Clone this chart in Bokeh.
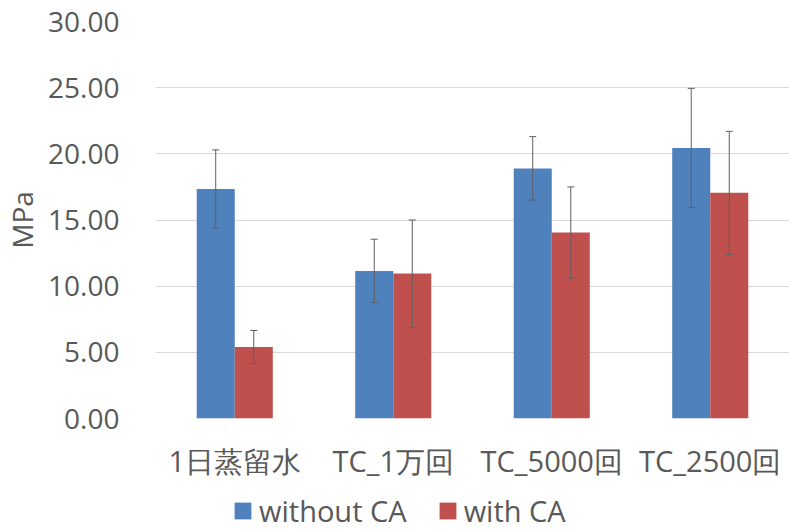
from bokeh.plotting import figure
from bokeh.layouts import column
from bokeh.models import (ColumnDataSource, Whisker, Legend, LegendItem,
                          SingleIntervalTicker, NumeralTickFormatter, TeeHead)
from bokeh.transform import dodge
from bokeh.embed import file_html
from bokeh.resources import INLINE

categories = ["1日蒸留水", "TC_1万回", "TC_5000回", "TC_2500回"]
without_ca = [17.35, 11.15, 18.9, 20.45]
without_ca_err = [2.95, 2.4, 2.4, 4.5]
with_ca = [5.4, 10.95, 14.05, 17.05]
with_ca_err = [1.25, 4.05, 3.45, 4.65]
series_names = ["without CA", "with CA"]
series_colors = ["#4F81BD", "#C0504D"]

src = ColumnDataSource(data=dict(
    cat=categories,
    wo=without_ca,
    wo_up=[v + e for v, e in zip(without_ca, without_ca_err)],
    wo_lo=[v - e for v, e in zip(without_ca, without_ca_err)],
    w=with_ca,
    w_up=[v + e for v, e in zip(with_ca, with_ca_err)],
    w_lo=[v - e for v, e in zip(with_ca, with_ca_err)],
))

TXT = "#595959"
FONT = "Open Sans"

p = figure(width=789, height=482, x_range=categories, y_range=(0, 30),
           output_backend="svg", toolbar_location=None,
           min_border_left=153, min_border_right=0, min_border_top=21, min_border_bottom=63)
p.outline_line_color = None
p.xgrid.grid_line_color = None
p.ygrid.grid_line_color = "#D9D9D9"
p.ygrid.grid_line_width = 1

p.vbar(x=dodge("cat", -0.12, range=p.x_range), top="wo", width=0.24, source=src,
       fill_color=series_colors[0], line_color=None)
p.vbar(x=dodge("cat", 0.12, range=p.x_range), top="w", width=0.24, source=src,
       fill_color=series_colors[1], line_color=None)

for off, up, lo in [(-0.12, "wo_up", "wo_lo"), (0.12, "w_up", "w_lo")]:
    wk = Whisker(source=src, base=dodge("cat", off, range=p.x_range), upper=up, lower=lo,
                 line_color="#606060", line_width=1, level="overlay",
                 upper_head=TeeHead(size=7, line_color="#606060", line_width=1),
                 lower_head=TeeHead(size=7, line_color="#606060", line_width=1))
    p.add_layout(wk)

p.yaxis.ticker = SingleIntervalTicker(interval=5)
p.yaxis.formatter = NumeralTickFormatter(format="0.00")
p.yaxis.axis_label = "MPa"
for ax in (p.xaxis, p.yaxis):
    ax.axis_line_color = None
    ax.major_tick_line_color = None
    ax.minor_tick_line_color = None
    ax.major_label_text_color = TXT
    ax.major_label_text_font = FONT
    ax.major_label_text_font_size = "28px"
p.yaxis.major_label_standoff = 30
p.yaxis.axis_label_text_font = FONT
p.yaxis.axis_label_text_font_size = "28px"
p.yaxis.axis_label_text_font_style = "normal"
p.yaxis.axis_label_text_color = TXT
p.yaxis.axis_label_standoff = 4
p.xaxis.major_label_standoff = 16
p.xaxis.major_label_text_font_size = "29px"

# legend strip below the chart (its frame is aligned with the chart's frame)
pl = figure(width=789, height=48, x_range=(0, 1), y_range=(0, 1),
            x_axis_location=None, y_axis_location=None,
            output_backend="svg", toolbar_location=None,
            min_border_left=0, min_border_right=0, min_border_top=0, min_border_bottom=0)
pl.grid.visible = False
pl.outline_line_color = None
items = []
for name, col in zip(series_names, series_colors):
    r = pl.vbar(x=[5], top=[5], bottom=[4], width=1, fill_color=col, line_color=None)
    items.append(LegendItem(label=name, renderers=[r]))
legend = Legend(items=items, orientation="horizontal", location=(77, 0),
                label_text_font=FONT, label_text_font_size="29px", label_text_color=TXT,
                glyph_width=21, glyph_height=21, label_standoff=6, spacing=30,
                padding=0, margin=0, border_line_color=None, background_fill_alpha=0)
pl.add_layout(legend)

layout = column(p, pl, spacing=0)
open("out.html", "w").write(file_html(layout, INLINE))
